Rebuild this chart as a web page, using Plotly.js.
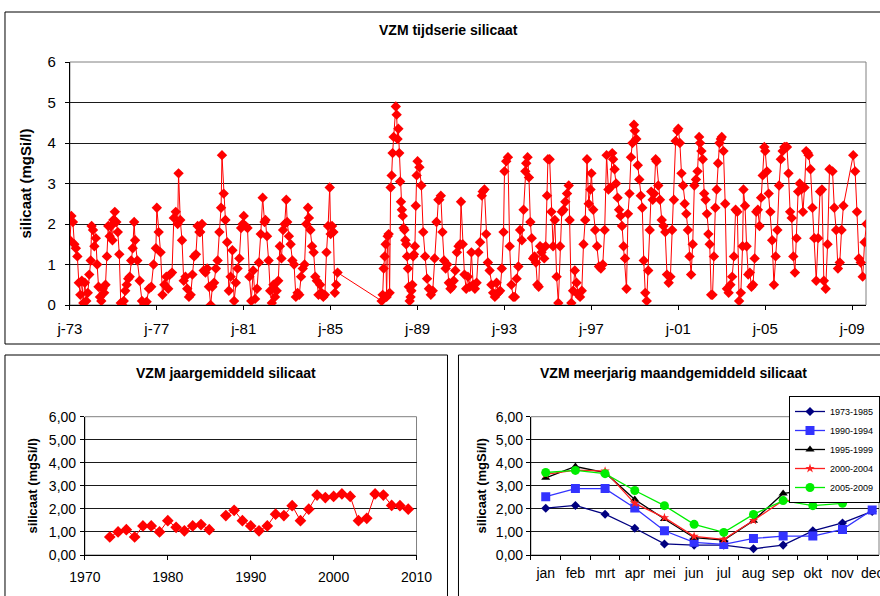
<!DOCTYPE html>
<html>
<head>
<meta charset="utf-8">
<script src="https://cdn.plot.ly/plotly-3.0.1.min.js"></script>
<style>html,body{margin:0;padding:0;background:#fff;}#chart{width:880px;height:596px;}</style>
</head>
<body>
<div id="chart"></div>
<script>
// ---------- Top chart: time series (samples per year) ----------
const tsYears = [1973,1974,1975,1976,1977,1978,1979,1980,1981,1982,1983,1984,1985,
                 1987,1988,1989,1990,1991,1992,1993,1994,1995,1996,1997,1998,1999,
                 2000,2001,2002,2003,2004,2005,2006,2007,2008,2009];
const tsSamples = [
  [1.6,2.2,2.05,1.5,1.4,1.2,0.55,0.25,0.6,0.05,0.55,0.1,0.3,0.75,1.1],
  [1.95,1.85,1.45,1.65,1.0,0.45,0.2,0.1,0.4,0.3,0.5,1.2,1.95,1.7,1.95,1.6],
  [2.1,2.3,2.05,1.8,1.25,0.05,0.0,0.1,0.35,0.5,0.65,0.7,1.1,1.4,2.05],
  [1.6,1.1,0.6,0.1,0.02,0.08,0.4,0.45,1.0,1.4],
  [2.4,1.8,1.3,0.25,0.5,0.7,0.4,0.75,0.8,2.15,2.3,2.0],
  [3.25,2.1,1.6,0.6,0.7,0.4,0.2,0.25,0.75,1.2,1.25,1.95,1.8],
  [1.8,2.0,0.85,0.8,0.9,0.45,0.0,0.45,0.55,0.9,1.1,1.8,2.4],
  [3.7,2.75,2.1,1.55,0.35,0.7,1.35,0.1,0.55,0.9,1.15,1.9,2.0],
  [2.2,1.95,1.9,0.7,0.1,0.85,0.15,0.4,1.05,1.75,2.65,2.05],
  [2.1,1.7,1.1,0.35,0.05,0.5,0.2,0.35,0.6,1.45,1.15,1.85,2.0,2.6],
  [2.05,1.7,1.5,1.1,1.0,0.2,0.3,0.25,0.7,0.9,1.0,2.0,2.4],
  [2.15,1.85,1.45,1.3,0.7,0.6,0.25,0.5,0.3,0.2,0.25,1.3,1.95,2.9],
  [1.75,1.95,1.8,0.3,0.5,0.8],
  [0.1,0.25,0.9,1.2,1.5,0.2,1.7,1.75,0.3,2.9,3.2,3.75,4.15],
  [4.9,4.7,4.1,4.35,3.75,3.05,2.55,2.35,2.2,1.9,1.85,1.6,1.5,1.2,0.9,0.45,0.1,0.2,0.35,0.5,1.2,1.25,1.45,2.45,3.2],
  [3.55,3.4,2.95,1.8,1.2,0.65,0.4,0.25,0.35,1.15,2.05,2.6],
  [2.6,2.7,1.8,1.1,0.9,1.0,0.55,0.4,0.45,0.6,0.85,1.3,1.45,1.5],
  [2.55,1.5,0.75,0.4,0.7,0.45,1.3,0.5,0.4,0.55,1.3,1.55,2.7],
  [2.8,2.85,1.75,1.05,0.85,0.5,0.3,0.2,0.55,0.3,0.35,0.9,1.8],
  [3.3,3.55,3.65,1.45,0.5,0.2,0.2,0.65,0.95,1.85,1.6,2.35,3.3],
  [3.5,3.65,3.15,2.05,1.65,1.15,1.2,1.05,0.5,0.45,1.45,1.3,1.4,1.15,1.45,2.7],
  [3.6,3.6,2.3,1.45,2.1,0.7,0.05,1.45,2.3,2.35,2.55,2.75,2.95],
  [2.1,0.05,0.35,0.85,0.55,0.25,0.2,0.35,1.5,2.1,3.6,2.5,2.85],
  [3.25,2.35,1.85,1.45,0.95,0.9,1.0,1.85,3.7,2.85,2.9,3.75],
  [3.6,3.35,3.0,2.65,2.35,2.2,1.95,1.45,1.15,0.4,2.25,2.75,3.65,4.0,4.45],
  [4.3,4.1,3.45,3.1,2.7,2.4,1.1,0.3,0.1,0.85,1.85,2.8,2.6,2.75,3.6],
  [3.55,2.95,2.6,2.1,1.95,1.8,0.75,0.55,0.7,1.85,2.6,4.05,4.3],
  [4.35,4.0,3.25,2.95,2.5,2.25,1.85,1.2,0.75,1.5,2.95,3.1,3.3,4.15],
  [4.0,3.8,3.6,2.75,2.6,2.25,1.75,1.5,0.25,0.25,1.2,2.4,2.85,3.5,4.0,4.1],
  [4.15,3.8,2.5,0.4,0.3,0.5,0.7,1.2,2.35,2.3,0.1,0.3,1.45],
  [2.85,2.45,1.45,0.75,0.8,0.45,0.5,1.15,2.3,2.35,1.95,2.65,3.2,3.9],
  [3.8,3.3,2.75,2.3,1.6,0.5,1.2,1.85,2.95,3.6,3.8,3.9,3.9],
  [3.9,3.25,2.3,2.15,1.2,0.8,1.65,2.8,3.0,2.85,2.3,2.9,3.8,3.75],
  [3.7,3.35,2.4,1.65,0.6,1.65,2.8,2.85,0.6,0.4,1.5,3.35],
  [3.3,2.4,1.85,0.9,1.05,1.85,2.45],
  [3.7,3.3,2.3,1.15,1.05,0.7,1.55,2.0]
];
// part of the year covered by the samples (fraction of year), default whole year
const tsPartialYears = {1985:[0,0.32], 1987:[0.35,0.9], 2008:[0.1,0.6], 2009:[0.05,0.66]};
const tsTickYears = [1973,1977,1981,1985,1989,1993,1997,2001,2005,2009];
const tsTickLabels = ['j-73','j-77','j-81','j-85','j-89','j-93','j-97','j-01','j-05','j-09'];

// ---------- Bottom-left: yearly means ----------
const yearLabels = [1973,1974,1975,1976,1977,1978,1979,1980,1981,1982,1983,1984,1985,1986,1987,1988,1989,
                    1990,1991,1992,1993,1994,1995,1996,1997,1998,1999,2000,2001,2002,2003,2004,2005,2006,2007,2008,2009];
const yearMeans = [0.78,1.0,1.1,0.78,1.26,1.26,1.0,1.49,1.2,1.05,1.26,1.32,1.1,null,1.71,1.94,1.49,
                   1.26,1.05,1.26,1.77,1.71,2.14,1.49,1.99,2.6,2.49,2.54,2.65,2.54,1.49,1.59,2.65,2.6,2.15,2.14,1.99];

// ---------- Bottom-right: multi-year monthly means ----------
const months = ['jan','feb','mrt','apr','mei','jun','jul','aug','sep','okt','nov','dec'];
const periodNames = ['1973-1985','1990-1994','1995-1999','2000-2004','2005-2009'];
const m1973_1985 = [2.03,2.15,1.77,1.16,0.48,0.43,0.43,0.27,0.43,1.05,1.39,1.89];
const m1990_1994 = [2.53,2.88,2.88,2.04,1.05,0.55,0.46,0.72,0.82,0.82,1.11,1.95];
const m1995_1999 = [3.35,3.84,3.57,2.41,1.56,0.75,0.65,1.49,2.67,2.82,2.82,3.06];
const m2000_2004 = [3.5,3.68,3.64,2.24,1.62,0.81,0.68,1.5,2.37,2.36,2.49,2.82];
const m2005_2009 = [3.58,3.67,3.53,2.8,2.14,1.33,0.98,1.76,2.36,2.14,2.24,2.54];

// ---------- build time series dates ----------
function fracToDate(year, frac){
  const ms = Date.UTC(year,0,1) + frac*365.25*86400000;
  return new Date(ms).toISOString().slice(0,10);
}
const tsX = [], tsY = [];
tsYears.forEach((yr, k) => {
  const vals = tsSamples[k];
  const span = tsPartialYears[yr] || [0, 0.96];
  const n = vals.length;
  vals.forEach((v, i) => {
    const f = n > 1 ? span[0] + (span[1]-span[0])*i/(n-1) : span[0];
    tsX.push(fracToDate(yr, f));
    tsY.push(v);
  });
});
const tsTickVals = tsTickYears.map(y => y + '-01-01');

const W = 880, H = 596;
const px = x => x / W;
const py = y => 1 - y / H;
const FONT = 'Liberation Sans, Arial, sans-serif';

const traces = [
  {x: tsX, y: tsY, xaxis: 'x', yaxis: 'y', type: 'scatter', mode: 'lines+markers', showlegend: false,
   line: {color: '#ff0000', width: 1}, marker: {symbol: 'diamond', size: 8, color: '#ff0000'}},
  {x: yearLabels, y: yearMeans, xaxis: 'x2', yaxis: 'y2', type: 'scatter', mode: 'lines+markers', showlegend: false,
   connectgaps: false,
   line: {color: '#ff0000', width: 1}, marker: {symbol: 'diamond', size: 9, color: '#ff0000'}}
];
const monthlySeries = [m1973_1985, m1990_1994, m1995_1999, m2000_2004, m2005_2009];
const mColors = ['#000080', '#3333ff', '#000000', '#ff2020', '#00ee00'];
const mSymbols = ['diamond', 'square', 'triangle-up', 'star', 'circle'];
const mSizes = [7, 9, 8, 7, 9];
monthlySeries.forEach((vals, i) => {
  traces.push({x: months, y: vals, xaxis: 'x3', yaxis: 'y3', type: 'scatter', mode: 'lines+markers',
    name: periodNames[i], line: {color: mColors[i], width: 1.3},
    marker: {symbol: mSymbols[i], size: mSizes[i], color: mColors[i]}});
});

const gridC = '#1a1a1a';
const yCommon = {range: [0, 6], dtick: 1, tick0: 0, showgrid: true, gridcolor: gridC, gridwidth: 1,
  zeroline: false, showline: true, linecolor: '#000', ticks: 'outside', ticklen: 4, tickcolor: '#000'};

const layout = {
  width: W, height: H,
  margin: {l: 0, r: 0, t: 0, b: 0},
  paper_bgcolor: '#ffffff', plot_bgcolor: '#ffffff',
  separators: ',.',
  font: {family: FONT, color: '#000', size: 12},
  showlegend: true,
  legend: {x: px(790), y: py(396), xanchor: 'left', yanchor: 'top', bgcolor: '#ffffff',
    bordercolor: '#000', borderwidth: 1, font: {size: 9, family: FONT}, tracegroupgap: 0, itemwidth: 30},
  xaxis: {domain: [px(70), px(867)], anchor: 'y', type: 'date',
    range: ['1973-01-01', '2009-08-22'], tickvals: tsTickVals, ticktext: tsTickLabels,
    ticks: 'outside', ticklen: 4, tickcolor: '#000', showgrid: false, zeroline: false,
    showline: true, linecolor: '#000', tickfont: {size: 15}, ticklabelstandoff: 6},
  yaxis: Object.assign({}, yCommon, {domain: [py(305), py(62)], anchor: 'x',
    tickfont: {size: 15}, ticklabelstandoff: 6,
    title: {text: '<b>silicaat (mgSi/l)</b>', font: {size: 15}, standoff: 12}}),
  xaxis2: {domain: [px(85), px(417)], anchor: 'y2', range: [1970, 2010], dtick: 10, tick0: 1970,
    ticks: 'outside', ticklen: 4, tickcolor: '#000', showgrid: false, zeroline: false,
    showline: true, linecolor: '#000', tickfont: {size: 14}, ticklabelstandoff: 5, tickformat: 'd'},
  yaxis2: Object.assign({}, yCommon, {domain: [py(555), py(416.7)], anchor: 'x2',
    tickformat: '.2f', tickfont: {size: 14}, ticklabelstandoff: 1,
    title: {text: '<b>silicaat (mgSi/l)</b>', font: {size: 13}, standoff: 8}}),
  xaxis3: {domain: [px(531.5), 1], anchor: 'y3', type: 'category', categoryarray: months,
    range: [-0.5, 11.23], tickson: 'boundaries', ticks: 'outside', ticklen: 4, tickcolor: '#000',
    showgrid: false, zeroline: false, showline: true, linecolor: '#000', tickangle: 0,
    tickfont: {size: 14}, ticklabelstandoff: 5},
  yaxis3: Object.assign({}, yCommon, {domain: [py(555), py(416.7)], anchor: 'x3',
    tickformat: '.2f', tickfont: {size: 14}, ticklabelstandoff: 0,
    title: {text: '<b>silicaat (mgSi/l)</b>', font: {size: 13}, standoff: 6}}),
  annotations: [
    {text: '<b>VZM tijdserie silicaat</b>', xref: 'paper', yref: 'paper', x: px(449), y: py(30),
     showarrow: false, font: {size: 14}, xanchor: 'center', yanchor: 'middle'},
    {text: '<b>VZM jaargemiddeld silicaat</b>', xref: 'paper', yref: 'paper', x: px(226), y: py(373),
     showarrow: false, font: {size: 14}, xanchor: 'center', yanchor: 'middle'},
    {text: '<b>VZM meerjarig maandgemiddeld silicaat</b>', xref: 'paper', yref: 'paper', x: px(674), y: py(373),
     showarrow: false, font: {size: 14}, xanchor: 'center', yanchor: 'middle'}
  ],
  shapes: [
    {type: 'rect', xref: 'paper', yref: 'paper', x0: px(5), x1: 1.02, y0: py(344), y1: py(12),
     line: {color: '#000', width: 1}, layer: 'below'},
    {type: 'rect', xref: 'paper', yref: 'paper', x0: px(5), x1: px(448), y0: -0.02, y1: py(355),
     line: {color: '#000', width: 1}, layer: 'below'},
    {type: 'rect', xref: 'paper', yref: 'paper', x0: px(459), x1: 1.02, y0: -0.02, y1: py(355),
     line: {color: '#000', width: 1}, layer: 'below'},
    {type: 'rect', xref: 'x domain', yref: 'y domain', x0: 0, x1: 1, y0: 0, y1: 1,
     line: {color: '#808080', width: 1}, layer: 'below'},
    {type: 'rect', xref: 'x2 domain', yref: 'y2 domain', x0: 0, x1: 1, y0: 0, y1: 1,
     line: {color: '#808080', width: 1}, layer: 'below'},
    {type: 'rect', xref: 'x3 domain', yref: 'y3 domain', x0: 0, x1: 1, y0: 0, y1: 1,
     line: {color: '#808080', width: 1}, layer: 'below'}
  ]
};

Plotly.newPlot('chart', traces, layout, {staticPlot: true, displayModeBar: false});
</script>
</body>
</html>
